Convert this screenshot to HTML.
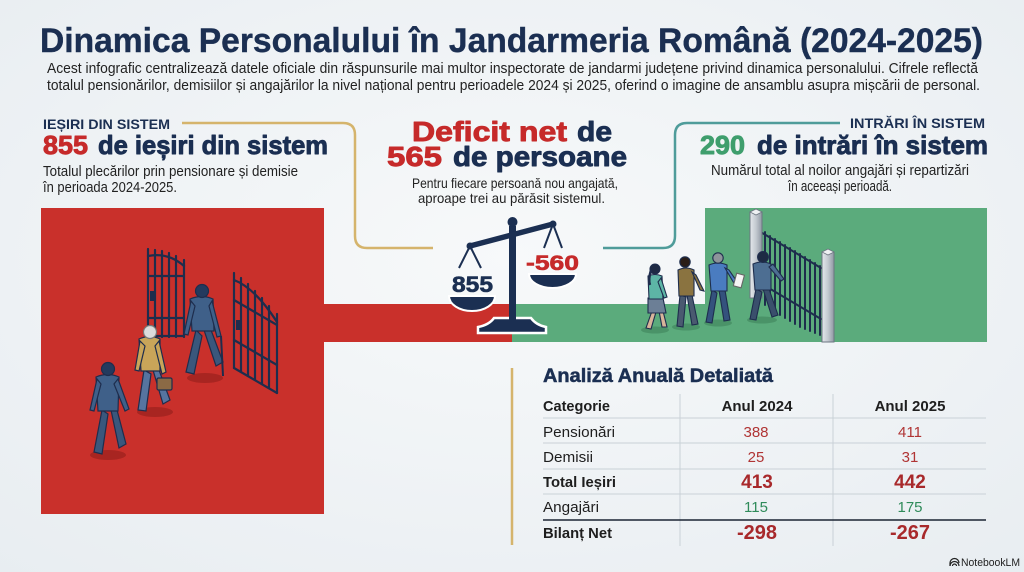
<!DOCTYPE html>
<html><head><meta charset="utf-8"><style>
html,body{margin:0;padding:0;width:1024px;height:572px;overflow:hidden;background:#eef2f5}
svg{display:block}
text{font-family:"Liberation Sans",sans-serif}
.hv{stroke-width:0.9;stroke-linejoin:round}
</style></head><body>
<svg width="1024" height="572" viewBox="0 0 1024 572" xmlns="http://www.w3.org/2000/svg">
<defs>
<radialGradient id="bg" cx="0.5" cy="0.45" r="0.75">
<stop offset="0" stop-color="#f7f9fa"/><stop offset="1" stop-color="#e8edf1"/>
</radialGradient>
<linearGradient id="post" x1="0" x2="1"><stop offset="0" stop-color="#e4e8ec"/><stop offset="0.5" stop-color="#c3c9d0"/><stop offset="1" stop-color="#8f98a3"/></linearGradient>
</defs>
<rect width="1024" height="572" fill="url(#bg)"/>

<!-- Title -->
<text x="40" y="52" font-size="34" font-weight="bold" fill="#1b2f52" stroke="#1b2f52" stroke-width="0.4" textLength="943" lengthAdjust="spacingAndGlyphs">Dinamica Personalului în Jandarmeria Română (2024-2025)</text>
<text x="47" y="73" font-size="14.5" fill="#222" textLength="931" lengthAdjust="spacingAndGlyphs">Acest infografic centralizează datele oficiale din răspunsurile mai multor inspectorate de jandarmi județene privind dinamica personalului. Cifrele reflectă</text>
<text x="47" y="90" font-size="14.5" fill="#222" textLength="933" lengthAdjust="spacingAndGlyphs">totalul pensionărilor, demisiilor și angajărilor la nivel național pentru perioadele 2024 și 2025, oferind o imagine de ansamblu asupra mișcării de personal.</text>

<!-- connectors -->
<path d="M182,123 H343 Q355,123 355,135 V236 Q355,248 367,248 H433" fill="none" stroke="#d5b46c" stroke-width="2.5"/>
<path d="M840,123 H687 Q675,123 675,135 V236 Q675,248 663,248 H603" fill="none" stroke="#4f9c9a" stroke-width="2.5"/>

<!-- Left header -->
<text x="43" y="129" font-size="14" font-weight="bold" fill="#1b2f52" textLength="127" lengthAdjust="spacingAndGlyphs">IEȘIRI DIN SISTEM</text>
<text class="hv" x="43" y="154" font-size="26" font-weight="bold" fill="#c62a2a" stroke="#c62a2a" textLength="45" lengthAdjust="spacingAndGlyphs">855</text>
<text class="hv" x="98" y="154" font-size="26" font-weight="bold" fill="#1b2f52" stroke="#1b2f52" textLength="230" lengthAdjust="spacingAndGlyphs">de ieșiri din sistem</text>
<text x="43" y="176" font-size="14.5" fill="#222" textLength="255" lengthAdjust="spacingAndGlyphs">Totalul plecărilor prin pensionare și demisie</text>
<text x="43" y="192" font-size="14.5" fill="#222" textLength="134" lengthAdjust="spacingAndGlyphs">în perioada 2024-2025.</text>

<!-- Center header -->
<text class="hv" x="412" y="141" font-size="28" font-weight="bold" fill="#c62a2a" stroke="#c62a2a" textLength="155" lengthAdjust="spacingAndGlyphs">Deficit net</text>
<text class="hv" x="577" y="141" font-size="28" font-weight="bold" fill="#1b2f52" stroke="#1b2f52" textLength="35" lengthAdjust="spacingAndGlyphs">de</text>
<text class="hv" x="387" y="166" font-size="28" font-weight="bold" fill="#c62a2a" stroke="#c62a2a" textLength="55" lengthAdjust="spacingAndGlyphs">565</text>
<text class="hv" x="453" y="166" font-size="28" font-weight="bold" fill="#1b2f52" stroke="#1b2f52" textLength="174" lengthAdjust="spacingAndGlyphs">de persoane</text>
<text x="412" y="188" font-size="14" fill="#222" textLength="206" lengthAdjust="spacingAndGlyphs">Pentru fiecare persoană nou angajată,</text>
<text x="418" y="203" font-size="14" fill="#222" textLength="187" lengthAdjust="spacingAndGlyphs">aproape trei au părăsit sistemul.</text>

<!-- Right header -->
<text x="850" y="128" font-size="14" font-weight="bold" fill="#1b2f52" textLength="135" lengthAdjust="spacingAndGlyphs">INTRĂRI ÎN SISTEM</text>
<text class="hv" x="700" y="154" font-size="26" font-weight="bold" fill="#3f9e6d" stroke="#3f9e6d" textLength="45" lengthAdjust="spacingAndGlyphs">290</text>
<text class="hv" x="757" y="154" font-size="26" font-weight="bold" fill="#1b2f52" stroke="#1b2f52" textLength="231" lengthAdjust="spacingAndGlyphs">de intrări în sistem</text>
<text x="711" y="175" font-size="14.5" fill="#222" textLength="258" lengthAdjust="spacingAndGlyphs">Numărul total al noilor angajări și repartizări</text>
<text x="788" y="191" font-size="14.5" fill="#222" textLength="104" lengthAdjust="spacingAndGlyphs">în aceeași perioadă.</text>

<!-- Red block -->
<rect x="41" y="208" width="283" height="306" fill="#c9302b"/>
<rect x="324" y="304" width="188" height="38" fill="#c9302b"/>
<!-- Green block -->
<rect x="705" y="208" width="282" height="134" fill="#5bab7c"/>
<rect x="512" y="304" width="193" height="38" fill="#5bab7c"/>

<!-- Left gates -->
<g stroke="#1e2d4d" stroke-width="2.2" fill="none" stroke-linecap="round">
<path d="M148,249 V337 M155,250 V337 M162,251 V337 M169,253 V337 M176,256 V337 M184,260 V337"/>
<path d="M148,256 Q168,252 184,266"/>
<path d="M148,276 H184 M148,318 H184 M148,336 H184"/>
<path d="M234,273 V368 M241,278 V372 M248,284 V376 M255,291 V380 M262,298 V384 M269,306 V388 M277,314 V393"/>
<path d="M234,280 Q255,288 277,322 M234,300 L277,325 M234,340 L277,365 M234,368 L277,393"/>
</g>
<rect x="150" y="291" width="6" height="10" fill="#1e2d4d"/>
<rect x="236" y="320" width="6" height="10" fill="#1e2d4d"/>

<!-- red-side figures -->
<g stroke="#1e2d4d" stroke-width="1.2">
<ellipse cx="205" cy="378" rx="18" ry="5" fill="#a82521" stroke="none"/>
<ellipse cx="155" cy="412" rx="18" ry="5" fill="#a82521" stroke="none"/>
<ellipse cx="108" cy="455" rx="18" ry="5" fill="#a82521" stroke="none"/>
<!-- man A -->
<path d="M196,330 L186,372 L194,374 L202,336 Z" fill="#3a577c"/>
<path d="M204,330 L216,366 L223,362 L211,330 Z" fill="#3a577c"/>
<path d="M190,299 Q202,294 213,299 L214,331 L192,331 Z" fill="#3f6089"/>
<path d="M191,301 L184,334 L188,335 L195,306 Z" fill="#3f6089"/>
<path d="M212,301 L221,336 L217,337 L209,306 Z" fill="#3f6089"/>
<circle cx="202" cy="291" r="6.5" fill="#243a5e"/>
<line x1="221" y1="336" x2="223" y2="376" stroke-width="2"/>
<!-- man B old -->
<path d="M144,370 L138,410 L146,411 L151,374 Z" fill="#5674a0"/>
<path d="M153,370 L163,404 L170,400 L159,370 Z" fill="#5674a0"/>
<path d="M139,339 Q150,334 160,339 L160,371 L141,371 Z" fill="#c9a559"/>
<path d="M140,341 L135,370 L139,371 L145,346 Z" fill="#c9a559"/>
<path d="M159,341 L166,372 L162,374 L155,346 Z" fill="#c9a559"/>
<circle cx="150" cy="332" r="6.5" fill="#dcdcdc" stroke="#777"/>
<rect x="157" y="378" width="15" height="12" rx="1.5" fill="#8b6a45"/>
<!-- man C -->
<path d="M102,410 L94,452 L102,454 L108,414 Z" fill="#3a577c"/>
<path d="M111,410 L119,448 L126,444 L117,410 Z" fill="#3a577c"/>
<path d="M96,377 Q108,372 119,377 L118,411 L98,411 Z" fill="#3f6089"/>
<path d="M97,379 L90,410 L94,411 L101,384 Z" fill="#3f6089"/>
<path d="M118,379 L129,409 L125,411 L114,384 Z" fill="#3f6089"/>
<circle cx="108" cy="369" r="6.5" fill="#243a5e"/>
</g>

<!-- green gate -->
<g stroke="#1e2d4d" stroke-width="2" stroke-linecap="round">
<path d="M759,231 L821,268 M767,287 L821,319"/>
<path d="M765,232 V305 M770,236 V309 M775,239 V312 M780,242 V315 M785,245 V318 M790,248 V321 M795,251 V324 M800,254 V327 M805,257 V329 M810,260 V331 M815,263 V333 M820,266 V335"/>
</g>
<rect x="750" y="212" width="12" height="86" fill="url(#post)" stroke="#6d7682" stroke-width="1"/>
<path d="M750,212 L756,209 L762,212 L756,215 Z" fill="#eef1f3" stroke="#6d7682" stroke-width="0.8"/>
<rect x="822" y="252" width="12" height="90" fill="url(#post)" stroke="#6d7682" stroke-width="1"/>
<path d="M822,252 L828,249 L834,252 L828,255 Z" fill="#eef1f3" stroke="#6d7682" stroke-width="0.8"/>

<!-- green-side figures -->
<g stroke="#1e2d4d" stroke-width="1.1">
<ellipse cx="655" cy="330" rx="14" ry="3.5" fill="#4a9368" stroke="none"/>
<ellipse cx="686" cy="327" rx="14" ry="3.5" fill="#4a9368" stroke="none"/>
<ellipse cx="718" cy="323" rx="14" ry="3.5" fill="#4a9368" stroke="none"/>
<ellipse cx="762" cy="320" rx="15" ry="3.5" fill="#4a9368" stroke="none"/>
<!-- woman -->
<path d="M652,311 L646,328 L651,329 L656,312 Z" fill="#d8b49a"/>
<path d="M659,311 L662,327 L667,327 L663,311 Z" fill="#d8b49a"/>
<path d="M648,298 L663,298 L666,313 L648,313 Z" fill="#6c7f96"/>
<path d="M648,276 Q655,273 662,276 L663,299 L649,299 Z" fill="#5db5a6"/>
<path d="M661,278 L667,297 L664,298 L658,282 Z" fill="#5db5a6"/>
<circle cx="655" cy="269" r="5" fill="#1e2a44"/>
<path d="M651,270 Q648,280 650,285" fill="none" stroke-width="2.5"/>
<!-- man 2 -->
<path d="M680,295 L677,326 L683,327 L686,297 Z" fill="#4a5a70"/>
<path d="M687,295 L692,325 L698,324 L692,295 Z" fill="#4a5a70"/>
<path d="M678,270 Q686,266 694,270 L694,296 L679,296 Z" fill="#8a7340"/>
<path d="M692,272 L700,290 L704,291 L696,275 Z" fill="#8a7340"/>
<circle cx="685" cy="262" r="5.2" fill="#2a1e18"/>
<!-- man 3 -->
<path d="M712,290 L706,322 L712,323 L717,293 Z" fill="#34527d"/>
<path d="M719,290 L724,321 L730,320 L725,290 Z" fill="#34527d"/>
<path d="M709,265 Q718,261 727,265 L727,291 L711,291 Z" fill="#4a7cc0"/>
<path d="M725,268 L735,285 L738,283 L729,270 Z" fill="#4a7cc0"/>
<rect x="735" y="274" width="8" height="13" fill="#f4f4f4" stroke="#666" transform="rotate(15 739 280)"/>
<circle cx="718" cy="258" r="5.2" fill="#8e949a"/>
<!-- man 4 -->
<path d="M756,289 L750,319 L756,320 L762,292 Z" fill="#3a4f6c"/>
<path d="M763,289 L772,317 L778,315 L769,289 Z" fill="#3a4f6c"/>
<path d="M753,264 Q762,260 771,264 L771,290 L755,290 Z" fill="#4d6e92"/>
<path d="M769,267 L781,281 L784,279 L773,264 Z" fill="#4d6e92"/>
<circle cx="763" cy="257" r="5.4" fill="#1e2a44"/>
</g>

<!-- Scale -->
<g>
<path d="M478,333 H546 V327 Q536,325 531,318 H494 Q489,325 478,327 Z" fill="#1b2f52" stroke="#fff" stroke-width="2.5"/>
<rect x="509" y="226" width="7" height="94" fill="#1b2f52"/>
<line x1="470" y1="246" x2="553" y2="224" stroke="#1b2f52" stroke-width="5.5" stroke-linecap="round"/>
<circle cx="512.5" cy="222" r="5" fill="#1b2f52"/>
<circle cx="470" cy="246" r="3.5" fill="#1b2f52"/>
<circle cx="553" cy="224" r="3.5" fill="#1b2f52"/>
<path d="M470,246 L459,268 M470,246 L481,268" stroke="#1b2f52" stroke-width="2" fill="none"/>
<path d="M553,224 L544,248 M553,224 L562,248" stroke="#1b2f52" stroke-width="2" fill="none"/>
<text x="452" y="292" font-size="22" font-weight="bold" fill="#1b2f52" stroke="#1b2f52" stroke-width="0.6" textLength="41" lengthAdjust="spacingAndGlyphs">855</text>
<path d="M449,296 H495 A23,15 0 0 1 449,296 Z" fill="#1b2f52" stroke="#fff" stroke-width="2"/>
<text x="526" y="270" font-size="21" font-weight="bold" fill="#c62a2a" stroke="#c62a2a" stroke-width="0.6" textLength="53" lengthAdjust="spacingAndGlyphs">-560</text>
<path d="M529,274 H576 A23.5,14 0 0 1 529,274 Z" fill="#1b2f52" stroke="#fff" stroke-width="2"/>
</g>

<!-- Table -->
<line x1="512" y1="368" x2="512" y2="545" stroke="#d5b46c" stroke-width="2.5"/>
<text x="543" y="382" font-size="19" font-weight="bold" fill="#1b2f52" stroke="#1b2f52" stroke-width="0.5" textLength="230" lengthAdjust="spacingAndGlyphs">Analiză Anuală Detaliată</text>
<g stroke="#c9d1d7" stroke-width="1">
<line x1="680" y1="394" x2="680" y2="546"/>
<line x1="833" y1="394" x2="833" y2="546"/>
<line x1="543" y1="418" x2="986" y2="418"/>
<line x1="543" y1="443" x2="986" y2="443"/>
<line x1="543" y1="469" x2="986" y2="469"/>
<line x1="543" y1="494" x2="986" y2="494"/>
</g>
<line x1="543" y1="520" x2="986" y2="520" stroke="#1b2433" stroke-width="1.6"/>
<g font-size="15" fill="#1e1e1e">
<text x="543" y="411" font-weight="bold" textLength="67" lengthAdjust="spacingAndGlyphs">Categorie</text>
<text x="757" y="411" font-weight="bold" text-anchor="middle">Anul 2024</text>
<text x="910" y="411" font-weight="bold" text-anchor="middle">Anul 2025</text>
<text x="543" y="437" textLength="72" lengthAdjust="spacingAndGlyphs">Pensionări</text>
<text x="543" y="462" textLength="50" lengthAdjust="spacingAndGlyphs">Demisii</text>
<text x="543" y="487" font-weight="bold" textLength="73" lengthAdjust="spacingAndGlyphs">Total Ieșiri</text>
<text x="543" y="512" textLength="56" lengthAdjust="spacingAndGlyphs">Angajări</text>
<text x="543" y="538" font-weight="bold" textLength="69" lengthAdjust="spacingAndGlyphs">Bilanț Net</text>
</g>
<g text-anchor="middle">
<text x="756" y="437" font-size="15" fill="#b03434">388</text>
<text x="910" y="437" font-size="15" fill="#b03434">411</text>
<text x="756" y="462" font-size="15" fill="#b03434">25</text>
<text x="910" y="462" font-size="15" fill="#b03434">31</text>
<text x="757" y="488" font-size="19" font-weight="bold" fill="#a8292b">413</text>
<text x="910" y="488" font-size="19" font-weight="bold" fill="#a8292b">442</text>
<text x="756" y="512" font-size="15" fill="#2f8b5a">115</text>
<text x="910" y="512" font-size="15" fill="#2f8b5a">175</text>
<text x="757" y="539" font-size="20" font-weight="bold" fill="#a8292b">-298</text>
<text x="910" y="539" font-size="20" font-weight="bold" fill="#a8292b">-267</text>
</g>

<!-- NotebookLM mark -->
<g fill="none" stroke="#222" stroke-width="1.2">
<path d="M950,566 A4.5,4.5 0 0 1 959,566"/>
<path d="M952.5,566 A2,2 0 0 1 956.5,566"/>
<path d="M950,566 V563 A4.5,4.5 0 0 1 959,563"/>
</g>
<text x="961" y="566" font-size="11" fill="#222" textLength="59" lengthAdjust="spacingAndGlyphs">NotebookLM</text>
</svg>
</body></html>
